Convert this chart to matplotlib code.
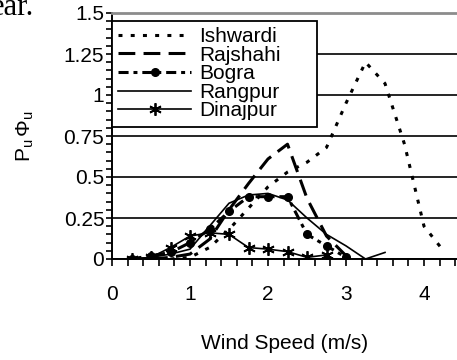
import matplotlib
matplotlib.use("Agg")
import matplotlib.pyplot as plt
from matplotlib.ticker import MultipleLocator, FuncFormatter

plt.rcParams['font.family'] = 'Liberation Sans'
plt.rcParams['mathtext.fontset'] = 'custom'
plt.rcParams['mathtext.rm'] = 'Liberation Sans'
plt.rcParams['mathtext.it'] = 'Liberation Sans:italic'

# wind speed bins (m/s) and power density per station
speed_ishwardi = [0.75, 1.0, 1.25, 1.5, 1.75, 2.0, 2.25, 2.5, 2.75, 3.0, 3.25, 3.5, 3.75, 4.0, 4.25]
pphi_ishwardi = [0.0, 0.01, 0.07, 0.18, 0.31, 0.44, 0.53, 0.59, 0.68, 0.95, 1.2, 1.07, 0.70, 0.20, 0.05]

speed_rajshahi = [0.5, 0.75, 1.0, 1.25, 1.5, 1.75, 2.0, 2.25, 2.5, 2.75, 3.0]
pphi_rajshahi = [0.0, 0.01, 0.03, 0.12, 0.30, 0.46, 0.61, 0.70, 0.37, 0.14, 0.02]

speed_bogra = [0.25, 0.5, 0.75, 1.0, 1.25, 1.5, 1.75, 2.0, 2.25, 2.5, 2.75, 3.0]
pphi_bogra = [0.0, 0.02, 0.04, 0.10, 0.18, 0.29, 0.38, 0.38, 0.38, 0.15, 0.08, 0.01]

speed_rangpur = [0.25, 0.5, 0.75, 1.0, 1.25, 1.5, 1.75, 2.0, 2.25, 2.5, 2.75, 3.0, 3.25, 3.5]
pphi_rangpur = [0.0, 0.01, 0.03, 0.06, 0.20, 0.34, 0.39, 0.40, 0.36, 0.25, 0.15, 0.08, 0.0, 0.04]

speed_dinajpur = [0.25, 0.5, 0.75, 1.0, 1.25, 1.5, 1.75, 2.0, 2.25, 2.5, 2.75]
pphi_dinajpur = [0.0, 0.01, 0.07, 0.14, 0.16, 0.15, 0.07, 0.06, 0.045, 0.01, 0.025]

W, H = 457, 360
fig = plt.figure(figsize=(W / 100, H / 100), dpi=100)
ax = fig.add_axes([112 / W, 1 - 259 / H, (W - 112) / W, (259 - 13) / H])

ax.plot(speed_ishwardi, pphi_ishwardi, color='black', lw=2.2,
        linestyle=(0, (1.3, 2.7)), label='Ishwardi')
ax.plot(speed_rajshahi, pphi_rajshahi, color='black', lw=2.2,
        linestyle=(0, (5.5, 2.7)), label='Rajshahi')
ax.plot(speed_bogra, pphi_bogra, color='black', lw=2.2,
        linestyle=(0, (3.3, 1.6, 1.3, 1.6)), marker='o', ms=5.5,
        label='Bogra')
ax.plot(speed_rangpur, pphi_rangpur, color='black', lw=1.2, label='Rangpur')
ax.plot(speed_dinajpur, pphi_dinajpur, color='black', lw=1.2,
        marker=(6, 2, 0), ms=9, mew=1.3, label='Dinajpur')

ax.set_xlim(0, (W - 112) / 78)
ax.set_ylim(0, 1.5)

ax.xaxis.set_major_locator(MultipleLocator(1))
ax.xaxis.set_minor_locator(MultipleLocator(0.2))
ax.yaxis.set_major_locator(MultipleLocator(0.25))
ax.yaxis.set_minor_locator(MultipleLocator(0.05))
ax.yaxis.set_major_formatter(FuncFormatter(lambda v, p: '%g' % v))

ax.tick_params(axis='x', which='both', direction='out', length=5, width=1.2,
               pad=14, labelsize=15)
ax.tick_params(axis='y', which='both', direction='out', length=4, width=1.2,
               pad=1.5, labelsize=15)

ax.grid(axis='y', which='major', color='black', lw=1.2)
ax.set_axisbelow(True)

ax.spines['right'].set_visible(False)
ax.spines['top'].set_color('#8c8c8c')
ax.spines['top'].set_linewidth(2)
ax.spines['left'].set_linewidth(1.4)
ax.spines['bottom'].set_linewidth(1.4)

ax.set_xlabel('Wind Speed (m/s)', fontsize=15, labelpad=21)
ax.set_ylabel(r'$\mathrm{P}_\mathrm{u}\,\Phi_\mathrm{u}$', fontsize=15, labelpad=20)

leg = ax.legend(loc='upper left', bbox_to_anchor=(0.0, 0.5, 0.594, 0.468),
                mode='expand', fontsize=15,
                handlelength=3.5, handletextpad=0.4, labelspacing=-0.02,
                borderpad=0.3, borderaxespad=0.0, numpoints=1,
                fancybox=False, framealpha=1, edgecolor='black')
leg.get_frame().set_linewidth(1.3)

# fragment of the paper text above the figure
fig.text(-0.02, 1 - 15 / H, 'ear.', family='Liberation Serif', fontsize=22,
         va='baseline', ha='left')

fig.savefig('out.png', dpi=100)
